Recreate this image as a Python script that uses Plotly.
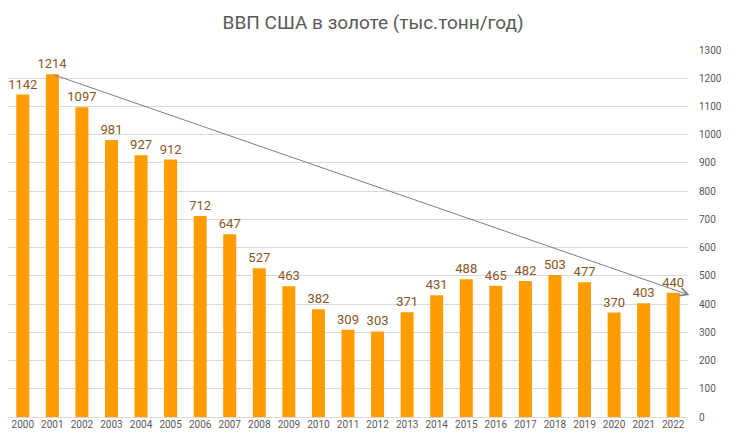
import plotly.graph_objects as go

years = list(range(2000, 2023))
values = [1142, 1214, 1097, 981, 927, 912, 712, 647, 527, 463, 382, 309, 303, 371,
          431, 488, 465, 482, 503, 477, 370, 403, 440]
title_text = "ВВП США в золоте (тыс.тонн/год)"
trend_start = (2001, 1214)
trend_end = (2022.55, 432)

FONT = "Roboto, Liberation Sans, sans-serif"

fig = go.Figure()
fig.add_trace(go.Bar(
    x=years, y=values,
    marker=dict(color="#FF9C00", line=dict(width=0)),
    width=0.44,
    text=[str(v) for v in values],
    textposition="outside",
    constraintext="none",
    cliponaxis=False,
    textfont=dict(color="#8A5522", size=13, family=FONT),
))

fig.add_annotation(
    x=trend_end[0], y=trend_end[1], ax=trend_start[0], ay=trend_start[1],
    xref="x", yref="y", axref="x", ayref="y",
    showarrow=True, arrowhead=5, arrowsize=1.6, arrowwidth=1,
    arrowcolor="#7F7F7F", text="",
)

fig.update_layout(
    width=739, height=439,
    margin=dict(l=0, r=59, t=42, b=30),
    paper_bgcolor="white", plot_bgcolor="white",
    showlegend=False,
    title=dict(text=title_text, x=0.494, xanchor="center", y=0.968, yanchor="middle",
               font=dict(family=FONT, size=19, color="#595959")),
    font=dict(family=FONT, color="#595959"),
    xaxis=dict(
        tickmode="array", tickvals=years, ticktext=[str(y) for y in years],
        range=[1999.5, 2022.5], showgrid=False, zeroline=False,
        showline=False, ticks="", tickangle=0,
        tickfont=dict(size=10, color="#595959"),
    ),
    yaxis=dict(
        side="right", range=[0, 1300], dtick=100, tick0=0,
        showgrid=True, gridcolor="#D9D9D9", gridwidth=1,
        zeroline=True, zerolinecolor="#D9D9D9", zerolinewidth=1,
        showline=False, ticks="", ticklabelstandoff=10,
        tickfont=dict(size=10, color="#595959"),
    ),
    bargap=0.5,
)

fig.write_html("out.html")
